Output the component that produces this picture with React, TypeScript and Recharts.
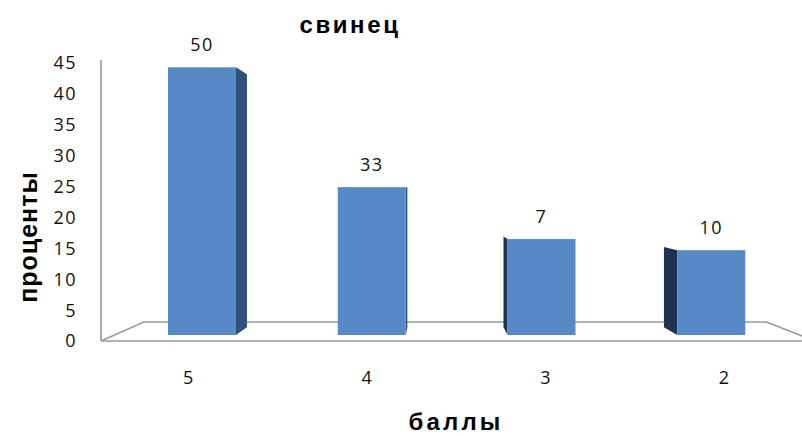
import React from 'react';
import { BarChart, Bar, XAxis, YAxis, LabelList, Customized } from 'recharts';

// ---- data ----
const categories = ['5', '4', '3', '2'];
// bar heights as drawn against the value axis (3D perspective view)
const barHeights = [44.3, 24.9, 16.5, 14.7];
// printed value labels
const valueLabels = [50, 33, 7, 10];
const yTicks = [0, 5, 10, 15, 20, 25, 30, 35, 40, 45];
const chartTitle = 'свинец';
const yTitle = 'проценты';
const xTitle = 'баллы';

const data = categories.map((c, i) => ({ cat: c, h: barHeights[i], lbl: valueLabels[i] }));

// ---- layout / style ----
const W = 802;
const H = 436;
const PLOT_LEFT = 101;
const PLOT_TOP = 63;
const PLOT_BOTTOM = 341;
const VX = 435;
const VY = 192;
const SIDE_F = 0.055;
const FLOOR_F = 0.128;
const LIFT = 6;
const NUM_FONT = "'Open Sans', 'DejaVu Sans', sans-serif";
const TITLE_FONT = "'Liberation Sans', Arial, sans-serif";
const LINE = '#9a9a9a';

const Bar3D = (props: any) => {
  const { x, y, width, height } = props;
  const bottom = y + height - LIFT;
  const left = x;
  const right = x + width;
  let side: React.ReactNode = null;
  if (VX > right) {
    const bx = right + SIDE_F * (VX - right);
    const ty = y + SIDE_F * (VY - y);
    const by = bottom + SIDE_F * (VY - bottom);
    side = <polygon points={`${right},${y} ${bx},${ty} ${bx},${by} ${right},${bottom}`} fill="#2F517D" />;
  } else if (VX < left) {
    const bx = left + SIDE_F * (VX - left);
    const ty = y + SIDE_F * (VY - y);
    const by = bottom + SIDE_F * (VY - bottom);
    side = <polygon points={`${left},${y} ${bx},${ty} ${bx},${by} ${left},${bottom}`} fill="#1E3350" />;
  }
  return (
    <g>
      {side}
      <rect x={left} y={y} width={width} height={bottom - y} fill="#5889C7" />
    </g>
  );
};

const Floor = () => {
  const fl = PLOT_LEFT;
  const fr = 815;
  const fy = PLOT_BOTTOM;
  const p = (x: number, y: number) => [x + FLOOR_F * (VX - x), y + FLOOR_F * (VY - y)];
  const [blx, bly] = p(fl, fy);
  const [brx, bry] = p(fr, fy);
  return (
    <g stroke={LINE} strokeWidth={1.6} fill="none">
      <line x1={PLOT_LEFT} y1={60} x2={PLOT_LEFT} y2={fy} />
      <polyline points={`${fl},${fy} ${blx},${bly} ${brx},${bry} ${fr},${fy}`} />
      <line x1={fl} y1={fy} x2={fr} y2={fy} />
    </g>
  );
};

const Titles = () => (
  <g fontFamily={TITLE_FONT} fontWeight="bold" fill="#000">
    <text x={350} y={33} textAnchor="middle" fontSize={24} letterSpacing={2.6}>{chartTitle}</text>
    <text x={456} y={430} textAnchor="middle" fontSize={24} letterSpacing={3.2}>{xTitle}</text>
    <text x={37} y={237} textAnchor="middle" fontSize={25} letterSpacing={1} transform="rotate(-90 37 237)">{yTitle}</text>
  </g>
);

const ValueLabel = (p: any) => (
  <text x={p.x + p.width / 2} y={p.y - 16} textAnchor="middle" fontSize={18} letterSpacing={1.5} fontFamily={NUM_FONT} fill="#111">
    {p.value}
  </text>
);

export default function App() {
  return (
    <div style={{ position: 'absolute', left: 0, top: 0, width: W, height: H, background: '#fff' }}>
      <BarChart width={W} height={H} data={data} margin={{ top: PLOT_TOP, right: 6, left: 0, bottom: 0 }}>
        <Customized component={<Floor />} />
        <XAxis xAxisId="bars" dataKey="cat" hide height={0} padding={{ left: 16, right: 0 }} />
        <XAxis
          xAxisId="lbl"
          dataKey="cat"
          height={H - PLOT_BOTTOM}
          axisLine={false}
          tickLine={false}
          tickSize={0}
          tickMargin={30}
          padding={{ left: -2.3, right: -17.3 }}
          tick={{ fontSize: 18, fontFamily: NUM_FONT, fill: '#111' }}
        />
        <YAxis
          domain={[0, 45]}
          ticks={yTicks}
          width={PLOT_LEFT}
          axisLine={false}
          tickLine={false}
          tickSize={0}
          tickMargin={24}
          interval={0}
          tick={{ fontSize: 18, fontFamily: NUM_FONT, fill: '#111', letterSpacing: 1.5 }}
        />
        <Bar xAxisId="bars" dataKey="h" barSize={68} shape={<Bar3D />} isAnimationActive={false}>
          <LabelList dataKey="lbl" content={<ValueLabel />} />
        </Bar>
        <Customized component={<Titles />} />
      </BarChart>
    </div>
  );
}
